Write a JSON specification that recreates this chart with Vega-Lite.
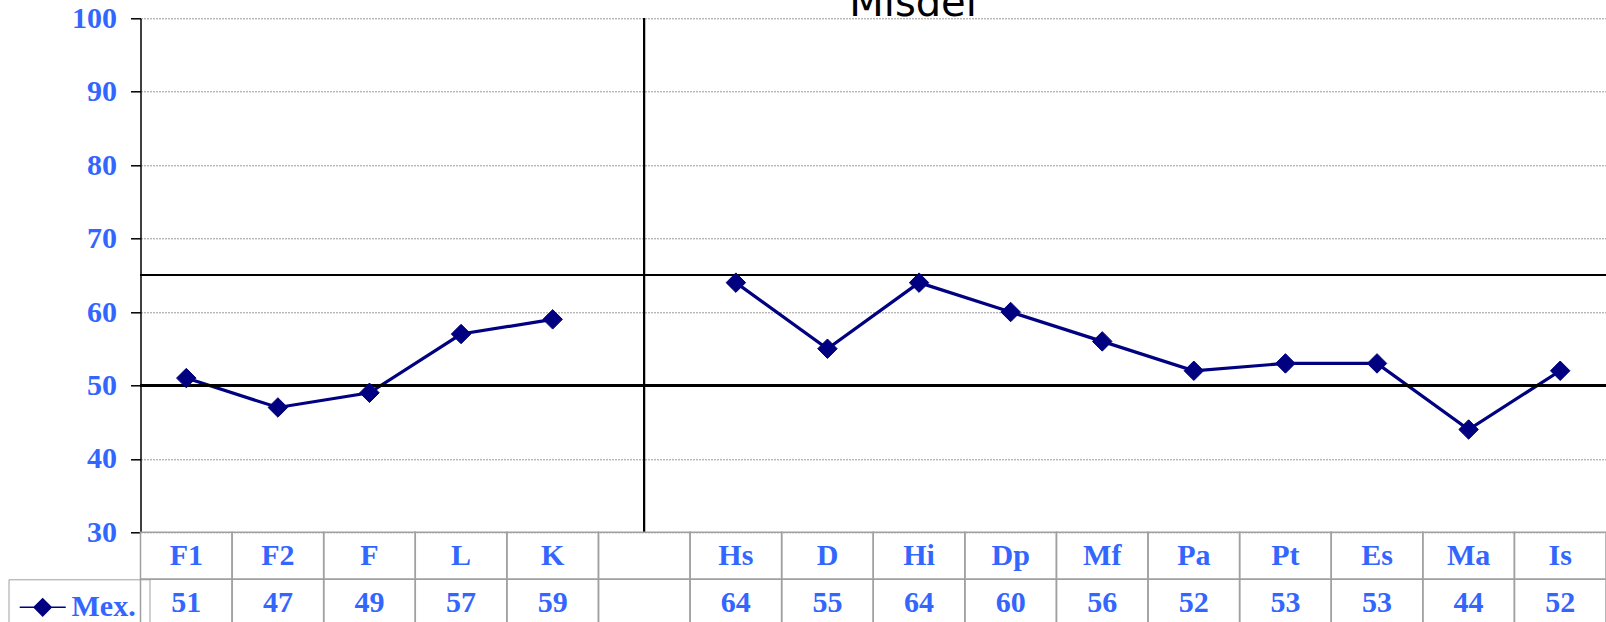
{
  "$schema": "https://vega.github.io/schema/vega-lite/v6.json",
  "width": 1465.5,
  "height": 603.7,
  "autosize": {"type": "none"},
  "padding": {"left": 140.5, "top": 18.3, "right": 0, "bottom": 0},
  "background": "white",
  "data": {"values": [
    {"cat": "F1", "v": 51, "part": "a"},
    {"cat": "F2", "v": 47, "part": "a"},
    {"cat": "F", "v": 49, "part": "a"},
    {"cat": "L", "v": 57, "part": "a"},
    {"cat": "K", "v": 59, "part": "a"},
    {"cat": " ", "v": null, "part": "gap"},
    {"cat": "Hs", "v": 64, "part": "b"},
    {"cat": "D", "v": 55, "part": "b"},
    {"cat": "Hi", "v": 64, "part": "b"},
    {"cat": "Dp", "v": 60, "part": "b"},
    {"cat": "Mf", "v": 56, "part": "b"},
    {"cat": "Pa", "v": 52, "part": "b"},
    {"cat": "Pt", "v": 53, "part": "b"},
    {"cat": "Es", "v": 53, "part": "b"},
    {"cat": "Ma", "v": 44, "part": "b"},
    {"cat": "Is", "v": 52, "part": "b"}
  ]},
  "layer": [
    {
      "layer": [
        {
          "transform": [{"filter": "datum.v != null"}],
          "mark": {"type": "line", "color": "#000080", "strokeWidth": 3.2},
          "encoding": {
            "x": {"field": "cat", "type": "nominal", "sort": null, "scale": {"type": "band", "domain": ["F1", "F2", "F", "L", "K", " ", "Hs", "D", "Hi", "Dp", "Mf", "Pa", "Pt", "Es", "Ma", "Is"], "paddingInner": 0, "paddingOuter": 0}, "axis": null},
            "y": {"field": "v", "type": "quantitative", "title": null, "scale": {"domain": [30, 100], "range": [514, 0], "nice": false, "zero": false},
                  "axis": {"values": [30, 40, 50, 60, 70, 80, 90, 100], "grid": true, "title": null}},
            "detail": {"field": "part"}
          }
        },
        {
          "mark": {"type": "rule", "color": "black", "strokeWidth": 1.5},
          "encoding": {"y": {"datum": 65, "type": "quantitative", "title": null}}
        },
        {
          "mark": {"type": "rule", "color": "black", "strokeWidth": 1.5},
          "encoding": {"y": {"datum": 50, "type": "quantitative", "title": null}}
        },
        {
          "mark": {"type": "rule", "color": "black", "strokeWidth": 1.5},
          "encoding": {
            "x": {"datum": " ", "type": "nominal"},
            "y": {"datum": 100, "type": "quantitative", "title": null},
            "y2": {"datum": 30}
          }
        },
        {
          "data": {"values": [{"t": "Misdel", "at": "Hi", "level": 100.3}]},
          "mark": {"type": "text", "font": "DejaVu Sans", "fontSize": 40, "color": "black", "baseline": "alphabetic", "align": "center", "dx": -6},
          "encoding": {
            "x": {"field": "at", "type": "nominal"},
            "y": {"field": "level", "type": "quantitative", "title": null},
            "text": {"field": "t"}
          }
        },
        {
          "transform": [{"filter": "datum.v != null"}],
          "mark": {"type": "point", "shape": "diamond", "filled": true, "size": 380, "opacity": 1, "stroke": "#000080", "strokeWidth": 1},
          "encoding": {
            "x": {"field": "cat", "type": "nominal"},
            "y": {"field": "v", "type": "quantitative", "title": null},
            "color": {"datum": "Mex.", "type": "nominal", "scale": {"range": ["#000080"]},
              "legend": {
                "orient": "none", "legendX": -132, "legendY": 561, "title": null,
                "padding": 13, "strokeColor": "#a0a0a0",
                "symbolType": "M-1.2,0L2.09,0M0.44,-0.61L1.05,0L0.44,0.61L-0.17,0Z",
                "symbolSize": 784, "labelOffset": 20,
                "labelFont": "Liberation Serif", "labelFontWeight": "bold", "labelFontSize": 30, "labelColor": "#3366ff",
                "encode": {"symbols": {"update": {
                  "shape": {"value": "M-1.2,0L2.09,0M0.44,-0.61L1.05,0L0.44,0.61L-0.17,0Z"},
                  "size": {"value": 784},
                  "stroke": {"value": "#000080"}, "strokeWidth": {"value": 3}, "fill": {"value": "#000080"}, "opacity": {"value": 1}}}}
              }
            }
          }
        }
      ]
    },
    {
      "layer": [
        {
          "mark": {"type": "rect", "filled": false, "stroke": "#a0a0a0", "strokeWidth": 1.5},
          "encoding": {
            "x": {"field": "cat", "type": "nominal"},
            "y": {"datum": "name", "type": "nominal", "scale": {"type": "band", "domain": ["name", "value"], "range": [514, 608], "paddingInner": 0, "paddingOuter": 0}, "axis": null}
          }
        },
        {
          "mark": {"type": "rect", "filled": false, "stroke": "#a0a0a0", "strokeWidth": 1.5},
          "encoding": {
            "x": {"field": "cat", "type": "nominal"},
            "y": {"datum": "value", "type": "nominal"}
          }
        },
        {
          "mark": {"type": "text", "font": "Liberation Serif", "fontWeight": "bold", "fontSize": 30, "color": "#3366ff", "baseline": "middle", "align": "center"},
          "encoding": {
            "x": {"field": "cat", "type": "nominal"},
            "y": {"datum": "name", "type": "nominal"},
            "text": {"field": "cat"}
          }
        },
        {
          "transform": [{"filter": "datum.v != null"}],
          "mark": {"type": "text", "font": "Liberation Serif", "fontWeight": "bold", "fontSize": 30, "color": "#3366ff", "baseline": "middle", "align": "center"},
          "encoding": {
            "x": {"field": "cat", "type": "nominal"},
            "y": {"datum": "value", "type": "nominal"},
            "text": {"field": "v", "type": "quantitative"}
          }
        }
      ]
    }
  ],
  "resolve": {"scale": {"y": "independent"}},
  "config": {
    "view": {"stroke": null},
    "axisY": {"domainColor": "black", "domainWidth": 1.5, "tickColor": "black", "tickWidth": 1.5, "tickSize": 10,
      "labelFont": "Liberation Serif", "labelFontWeight": "bold", "labelFontSize": 30, "labelColor": "#3366ff", "labelPadding": 14,
      "gridColor": "#999999", "gridWidth": 1, "gridDash": [2, 1]}
  }
}
